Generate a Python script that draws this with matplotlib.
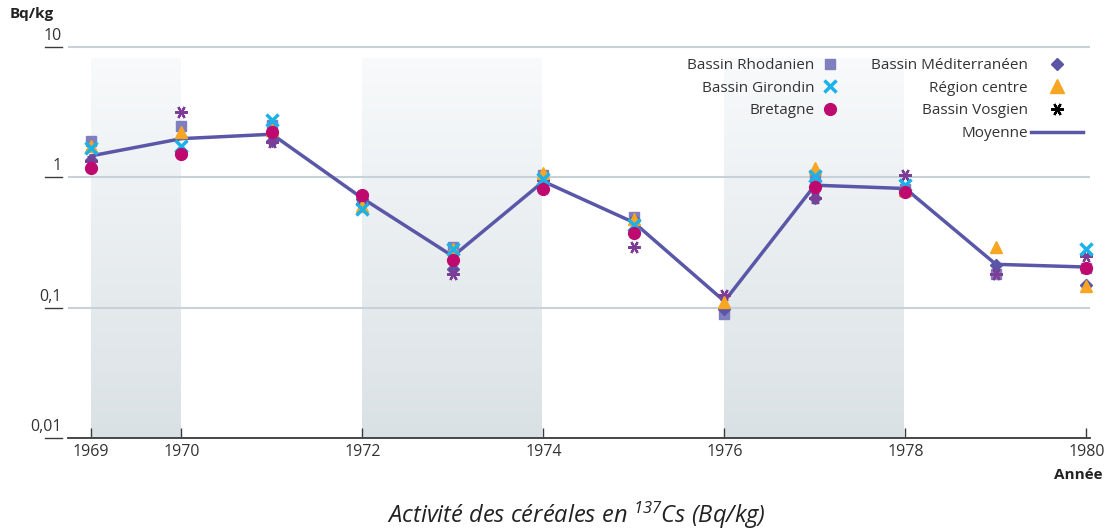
import numpy as np
import matplotlib
matplotlib.use("Agg")
import matplotlib.pyplot as plt
from matplotlib.lines import Line2D
from matplotlib import transforms
from matplotlib.colors import LinearSegmentedColormap

plt.rcParams['font.family'] = ['Open Sans', 'DejaVu Sans']
plt.rcParams['mathtext.fontset'] = 'custom'
plt.rcParams['mathtext.it'] = 'Open Sans:italic'
plt.rcParams['mathtext.rm'] = 'Open Sans:italic'

nan = np.nan
years = [1969, 1970, 1971, 1972, 1973, 1974, 1975, 1976, 1977, 1978, 1979, 1980]
rhodanien = [1.90, 2.48, 2.51, 0.70, 0.293, 1.05, 0.50, 0.090, 1.00, 0.81, 0.18, 0.20]
girondin = [1.67, 1.74, 2.76, 0.57, 0.28, 0.965, 0.43, nan, 1.02, 0.88, nan, 0.28]
bretagne = [1.17, 1.50, 2.23, 0.727, 0.234, 0.82, 0.375, nan, 0.84, 0.77, nan, 0.20]
mediterraneen = [1.35, 1.60, 1.90, 0.68, 0.199, 0.95, 0.47, 0.097, 0.69, 0.80, 0.214, 0.15]
centre = [1.74, 2.21, 2.30, 0.60, 0.28, 1.07, 0.48, 0.11, 1.17, 0.80, 0.293, 0.146]
vosgien = [1.33, 3.18, 1.85, 0.62, 0.18, 0.95, 0.293, 0.126, 0.69, 1.04, 0.18, 0.248]
moyenne = [1.46, 1.98, 2.14, 0.69, 0.248, 0.93, 0.45, 0.112, 0.87, 0.82, 0.215, 0.205]

band_spans = [(1969, 1970), (1972, 1974), (1976, 1978)]
xtick_years = [1969, 1970, 1972, 1974, 1976, 1978, 1980]
ytick_vals = [0.01, 0.1, 1, 10]
ytick_labels = ['0,01', '0,1', '1', '10']

c_rho = '#7f7fbf'
c_gir = '#1ab2e8'
c_bre = '#be0a6e'
c_med = '#5a55a6'
c_cen = '#f6a623'
c_vos = '#7d3c96'
c_moy = '#5a57a8'
c_txt = '#333333'
vos_marker = (6, 2, 90)

W, H = 1119, 532
fig = plt.figure(figsize=(W / 100, H / 100), dpi=100)
left_px, right_px, top_px, bot_px = 68, 1090, 44.2, 438
ax = fig.add_axes([left_px / W, 1 - bot_px / H, (right_px - left_px) / W, (bot_px - top_px) / H])
ax.set_yscale('log')

# gradient bands
grad = np.linspace(0, 1, 256).reshape(-1, 1)
cmap = LinearSegmentedColormap.from_list('band', ['#f8fafb', '#dae1e5'])
for x0, x1 in band_spans:
    ax.imshow(grad, cmap=cmap, aspect='auto', extent=(x0, x1, 0.0, 0.967),
              transform=ax.get_xaxis_transform(), origin='upper', zorder=0.5,
              interpolation='bilinear')
ax.set_xlim(1968.746, 1980.04)
ax.set_ylim(0.01, 10.5)

# grid
ax.set_yticks(ytick_vals)
ax.yaxis.grid(True, color='#c7d2d8', lw=1.5, zorder=1)
ax.yaxis.set_minor_locator(matplotlib.ticker.NullLocator())
ax.tick_params(axis='y', length=0, labelleft=False)
ax.set_axisbelow(False)

for s in ['top', 'left', 'right']:
    ax.spines[s].set_visible(False)
ax.spines['bottom'].set_color('#3a3a3a')
ax.spines['bottom'].set_linewidth(1.3)
ax.spines['bottom'].set_zorder(3)

narrow = ['Liberation Sans Narrow', 'Open Sans', 'DejaVu Sans']
ax.set_xticks(xtick_years)
ax.set_xticklabels([str(y) for y in xtick_years], family=narrow, fontsize=11.5, color=c_txt)
ax.tick_params(axis='x', direction='in', length=7, width=1, color='#3a3a3a', pad=4)

# y tick dashes and labels
ytr = ax.get_yaxis_transform()
for v, lab in zip(ytick_vals, ytick_labels):
    ax.plot([-0.0225, -0.0059], [v, v], color='#3a3a3a', lw=1, transform=ytr, clip_on=False)
    off = transforms.offset_copy(ytr, fig=fig, x=0, y=11, units='dots')
    ax.text(-0.006, v, lab, transform=off, ha='right', va='center', fontsize=11.5,
            color=c_txt, family=narrow)

# data
ax.plot(years, moyenne, color=c_moy, lw=2.5, zorder=3, solid_joinstyle='miter')
ax.plot(years, rhodanien, ls='none', marker='s', ms=7.5, color=c_rho, zorder=4, clip_on=False)
ax.plot(years, mediterraneen, ls='none', marker='D', ms=6.5, color=c_med, zorder=4.1, clip_on=False)
ax.plot(years, vosgien, ls='none', marker=vos_marker, ms=9, mew=1.6, color=c_vos, zorder=4.2, clip_on=False)
ax.plot(years, centre, ls='none', marker='^', ms=9, color=c_cen, zorder=4.3, clip_on=False)
ax.plot(years, girondin, ls='none', marker='x', ms=8, mew=2.5, color=c_gir, zorder=4.4, clip_on=False)
ax.plot(years, bretagne, ls='none', marker='o', ms=8.5, color=c_bre, zorder=4.5, clip_on=False)

# legends
h_left = [Line2D([], [], ls='none', marker='s', ms=7.5, color=c_rho),
          Line2D([], [], ls='none', marker='x', ms=8, mew=2.5, color=c_gir),
          Line2D([], [], ls='none', marker='o', ms=8.5, color=c_bre)]
l_left = ['Bassin Rhodanien', 'Bassin Girondin', 'Bretagne']
h_right = [Line2D([], [], ls='none', marker='D', ms=6.5, color=c_med),
           Line2D([], [], ls='none', marker='^', ms=10, color=c_cen),
           Line2D([], [], ls='none', marker=vos_marker, ms=9, mew=1.6, color='black'),
           Line2D([], [], color=c_moy, lw=2.5)]
l_right = ['Bassin Méditerranéen', 'Région centre', 'Bassin Vosgien', 'Moyenne']

leg1 = ax.legend(h_left, l_left, markerfirst=False, frameon=False, fontsize=11,
                 handlelength=1.0, handletextpad=0.5, labelspacing=0.5, borderpad=0,
                 borderaxespad=0, loc='upper right', labelcolor=c_txt,
                 bbox_to_anchor=(837.5 / W, 1 - 58 / H), bbox_transform=fig.transFigure)
ax.add_artist(leg1)
leg2 = ax.legend(h_right, l_right, markerfirst=False, frameon=False, fontsize=11,
                 handlelength=3.4, handletextpad=0.2, labelspacing=0.5, borderpad=0,
                 borderaxespad=0, loc='upper right', labelcolor=c_txt,
                 bbox_to_anchor=(1083 / W, 1 - 58 / H), bbox_transform=fig.transFigure)
for lg in (leg1, leg2):
    lg.set_zorder(6)

fig.text(10 / W, 1 - 14 / H, 'Bq/kg', fontsize=11, fontweight='bold', color='#222222',
         va='center', ha='left')
fig.text(1103 / W, 1 - 475 / H, 'Année', fontsize=11, fontweight='bold', color='#222222',
         va='center', ha='right', family=narrow)
fig.text(576 / W, 1 - 515 / H, r'Activité des céréales en $^{137}$Cs (Bq/kg)', fontsize=17,
         style='italic', color='#222222', va='center', ha='center')

fig.savefig('out.png', dpi=100)
